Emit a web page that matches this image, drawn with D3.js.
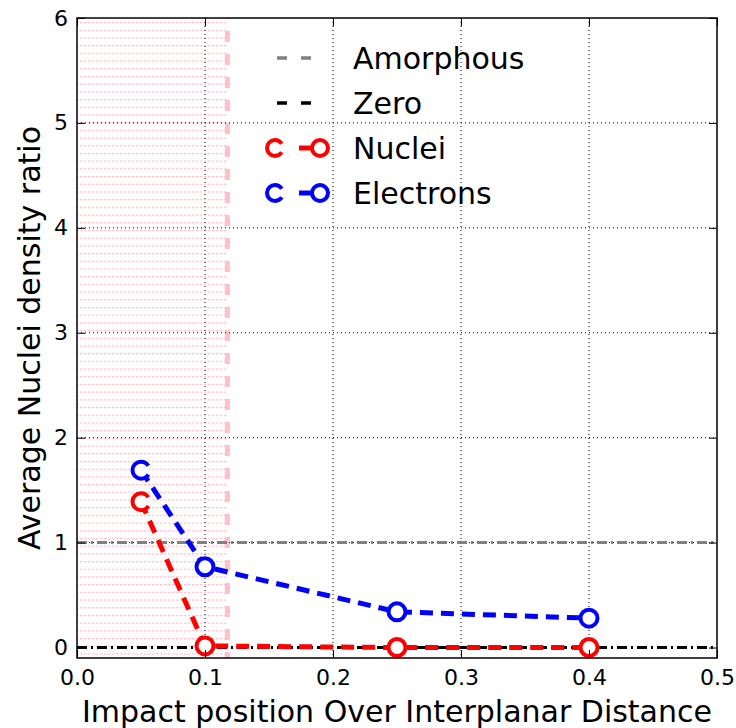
<!DOCTYPE html>
<html>
<head>
<meta charset="utf-8">
<script src="https://cdn.jsdelivr.net/npm/d3@7"></script>
<style>
  body { margin: 0; background: #fff; }
  text { font-family: "DejaVu Sans", sans-serif; }
</style>
</head>
<body>
<div class="plot"></div>
<script>
// data
const positions = [0.05, 0.1, 0.25, 0.4];
const nuclei = [1.39, 0.015, 0.0, 0.0];
const electrons = [1.69, 0.77, 0.34, 0.28];
const amorphousLevel = 1;
const zeroLevel = 0;
const shadeEnd = 0.1175;
const xTicks = [0.0, 0.1, 0.2, 0.3, 0.4, 0.5];
const yTicks = [0, 1, 2, 3, 4, 5, 6];

const margin = {top: 18, right: 19, bottom: 70, left: 77};
const W = 736, H = 728;
const w = W - margin.left - margin.right;
const h = H - margin.top - margin.bottom;

const svg = d3.select(".plot")
  .append("svg")
    .attr("width", W)
    .attr("height", H);

const defs = svg.append("defs");
defs.append("clipPath").attr("id", "clip")
  .append("rect").attr("width", w).attr("height", h);

// horizontal dotted hatch
const pat = defs.append("pattern")
  .attr("id", "hatch")
  .attr("patternUnits", "userSpaceOnUse")
  .attr("width", 4).attr("height", 7.7)
  .attr("y", 4);
pat.append("line")
  .attr("x1", 0).attr("x2", 4).attr("y1", 0.5).attr("y2", 0.5)
  .attr("stroke", "#ffc0cb").attr("stroke-width", 1.5)
  .attr("stroke-dasharray", "1.5,1.5");

const g = svg.append("g")
  .attr("transform", `translate(${margin.left},${margin.top})`);

const x = d3.scaleLinear().domain([0, 0.5]).range([0, w]);
const y = d3.scaleLinear().domain([-0.1, 6]).range([h, 0]);

// shaded region
g.append("rect")
  .attr("x", x(0)).attr("y", 0)
  .attr("width", x(shadeEnd) - x(0)).attr("height", h)
  .attr("fill", "url(#hatch)");
g.append("line")
  .attr("x1", x(shadeEnd)).attr("x2", x(shadeEnd))
  .attr("y1", h).attr("y2", 0)
  .attr("stroke", "#ffc0cb").attr("stroke-width", 5)
  .attr("stroke-dasharray", "11,12").attr("stroke-dashoffset", 5);

// grid
g.append("g").selectAll("line")
  .data(xTicks.slice(1, -1)).join("line")
    .attr("x1", d => x(d)).attr("x2", d => x(d))
    .attr("y1", 0).attr("y2", h)
    .attr("stroke", "#000").attr("stroke-width", 1)
    .attr("stroke-dasharray", "1,3");
g.append("g").selectAll("line")
  .data(yTicks.filter(d => d > 0 && d < 6)).join("line")
    .attr("x1", 0).attr("x2", w)
    .attr("y1", d => y(d)).attr("y2", d => y(d))
    .attr("stroke", "#000").attr("stroke-width", 1)
    .attr("stroke-dasharray", "1,3");

// reference lines
g.append("line")
  .attr("x1", 0).attr("x2", w)
  .attr("y1", y(amorphousLevel)).attr("y2", y(amorphousLevel))
  .attr("stroke", "#808080").attr("stroke-width", 3)
  .attr("stroke-dasharray", "10,4,2,4");
g.append("line")
  .attr("x1", 0).attr("x2", w)
  .attr("y1", y(zeroLevel)).attr("y2", y(zeroLevel))
  .attr("stroke", "#000").attr("stroke-width", 3)
  .attr("stroke-dasharray", "10,4,2,4");

// series
const series = [
  {name: "Nuclei", values: nuclei, color: "#ff0000"},
  {name: "Electrons", values: electrons, color: "#0000ff"}
];
const line = d3.line().x(d => x(d[0])).y(d => y(d[1]));
const plot = g.append("g").attr("clip-path", "url(#clip)");
series.forEach(s => {
  const pts = positions.map((p, i) => [p, s.values[i]]);
  plot.append("path")
    .datum(pts)
    .attr("fill", "none")
    .attr("stroke", s.color).attr("stroke-width", 5)
    .attr("stroke-dasharray", "13,8")
    .attr("d", line);
  plot.selectAll(null)
    .data(pts).join("circle")
      .attr("cx", d => x(d[0])).attr("cy", d => y(d[1]))
      .attr("r", 8.5)
      .attr("fill", "#fff")
      .attr("stroke", s.color).attr("stroke-width", 4)
      .attr("stroke-dasharray", (d, i) => i === 0 ? "44,9" : null)
      .attr("stroke-dashoffset", (d, i) => i === 0 ? 48.5 : null);
});

// frame
g.append("rect")
  .attr("width", w).attr("height", h)
  .attr("fill", "none").attr("stroke", "#000").attr("stroke-width", 1.5);

// axes with inward ticks on all sides
g.append("g")
  .attr("transform", `translate(0,${h})`)
  .call(d3.axisBottom(x).tickValues(xTicks).tickFormat(d3.format(".1f")).tickSizeInner(-8).tickSizeOuter(0).tickPadding(11));
g.append("g").call(d3.axisTop(x).tickValues(xTicks).tickSizeInner(-8).tickSizeOuter(0).tickFormat(""));
g.append("g")
  .call(d3.axisLeft(y).tickValues(yTicks).tickFormat(d3.format("d")).tickSizeInner(-8).tickSizeOuter(0).tickPadding(9));
g.append("g").attr("transform", `translate(${w},0)`)
  .call(d3.axisRight(y).tickValues(yTicks).tickSizeInner(-8).tickSizeOuter(0).tickFormat(""));
g.selectAll(".domain").remove();
g.selectAll(".tick line").attr("stroke", "#000").attr("stroke-width", 1);
g.selectAll(".tick text")
  .style("font-family", "DejaVu Sans, sans-serif")
  .style("font-size", "22px").attr("fill", "#000");

// axis titles
svg.append("text")
  .attr("x", margin.left + w / 2).attr("y", 722)
  .attr("text-anchor", "middle")
  .style("font-size", "30px")
  .text("Impact position Over Interplanar Distance");
svg.append("text")
  .attr("transform", `translate(40,${margin.top + h / 2}) rotate(-90)`)
  .attr("text-anchor", "middle")
  .style("font-size", "30px")
  .text("Average Nuclei density ratio");

// legend
const legendItems = [
  {name: "Amorphous", color: "#808080", marker: false},
  {name: "Zero", color: "#000", marker: false},
  {name: "Nuclei", color: "#ff0000", marker: true},
  {name: "Electrons", color: "#0000ff", marker: true}
];
const leg = svg.append("g");
legendItems.forEach((d, i) => {
  const cy = 58 + i * 45;
  if (d.marker) {
    leg.append("line")
      .attr("x1", 299).attr("x2", 314).attr("y1", cy).attr("y2", cy)
      .attr("stroke", d.color).attr("stroke-width", 5);
    [275, 320].forEach((cx, k) => {
      leg.append("circle")
        .attr("cx", cx).attr("cy", cy).attr("r", 8)
        .attr("fill", "#fff").attr("stroke", d.color).attr("stroke-width", 4)
        .attr("stroke-dasharray", k === 0 ? "41,9" : null)
        .attr("stroke-dashoffset", k === 0 ? 45.5 : null);
    });
  } else {
    leg.append("line")
      .attr("x1", 277).attr("x2", 311).attr("y1", cy).attr("y2", cy)
      .attr("stroke", d.color).attr("stroke-width", 3.5)
      .attr("stroke-dasharray", "10,14");
  }
  leg.append("text")
    .attr("x", 353).attr("y", cy + 11)
    .style("font-size", "30px")
    .text(d.name);
});
</script>
</body>
</html>
